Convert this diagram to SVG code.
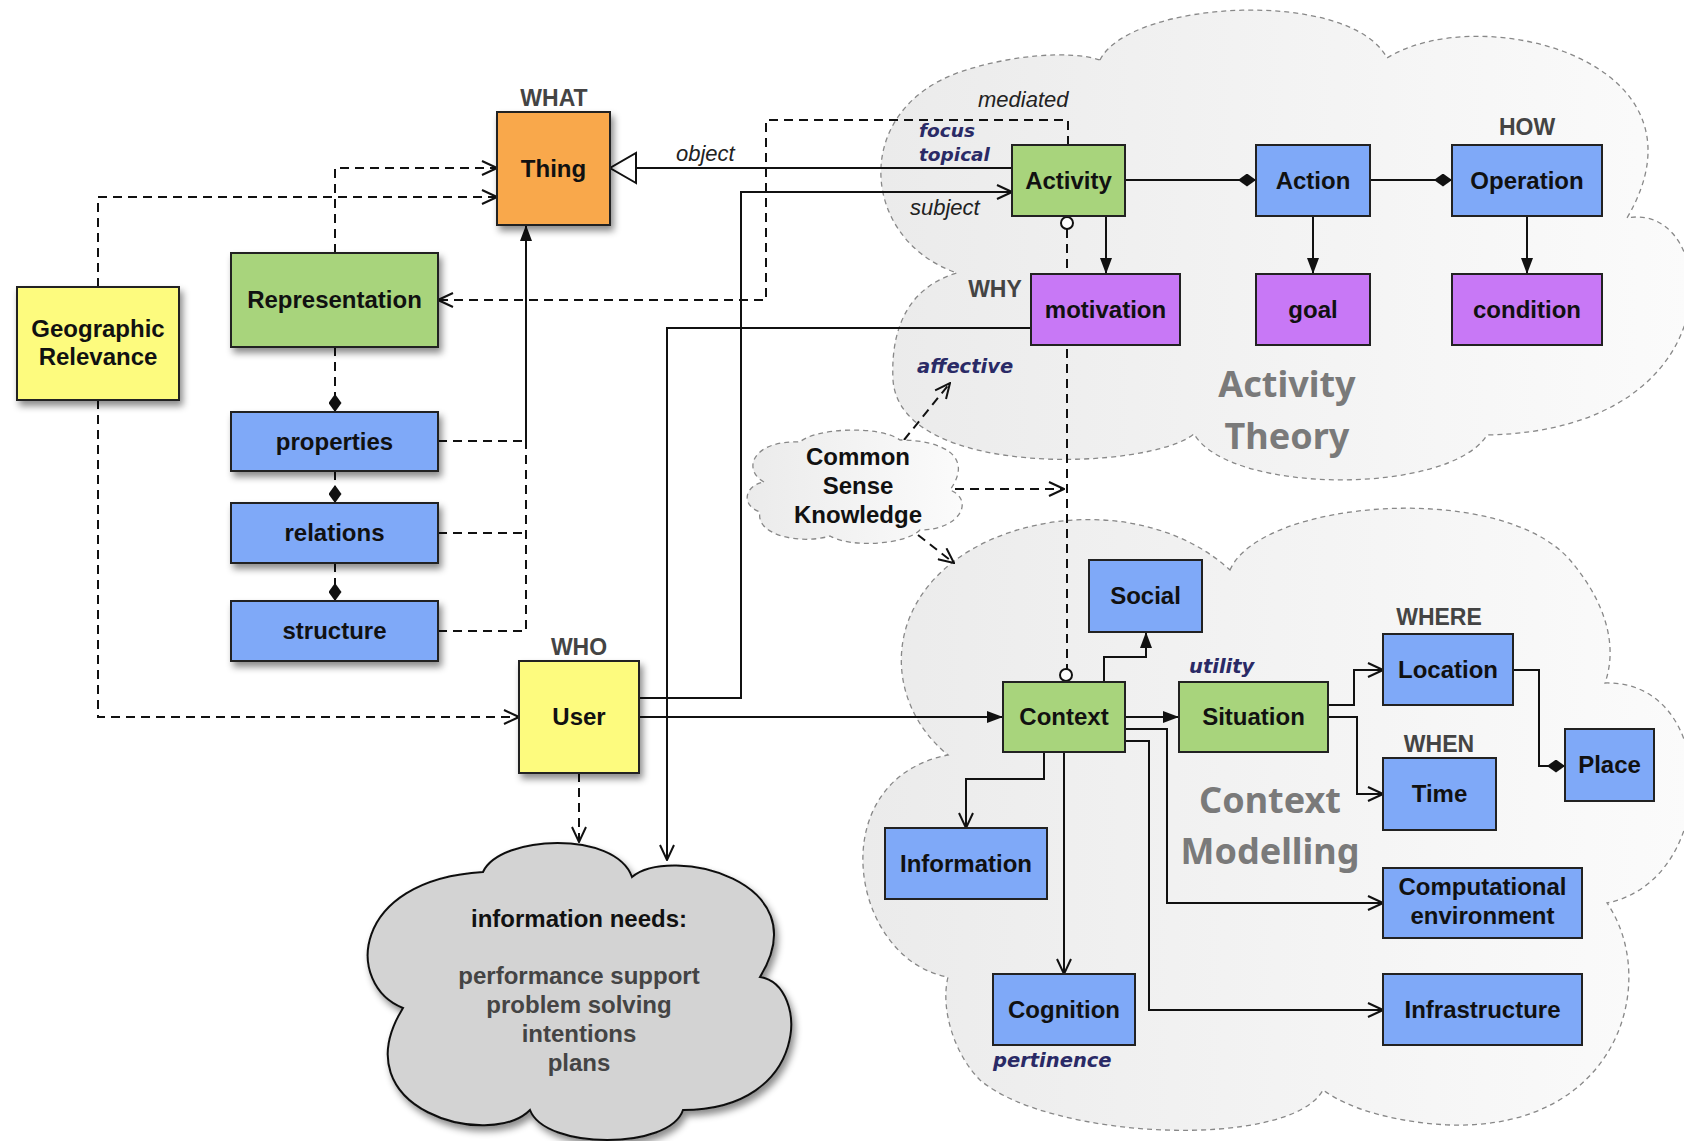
<svg xmlns="http://www.w3.org/2000/svg" width="1684" height="1141" viewBox="0 0 1684 1141">
<style>
text{font-family:"Liberation Sans",Arial,sans-serif}
.lbl{font-size:24px;font-weight:bold;fill:#111;text-anchor:middle}
.hdr{font-size:23px;font-weight:bold;fill:#444;text-anchor:middle}
.it{font-size:22px;font-style:italic;fill:#222}
.nv{font-family:"DejaVu Sans",Verdana,sans-serif;font-size:19.5px;font-weight:bold;font-style:oblique;fill:#2a2a66}
.big{font-family:"Comic Sans MS","Noto Sans",sans-serif;font-size:36px;font-weight:bold;fill:#7a7a7a;text-anchor:middle}
.box{stroke:#222;stroke-width:2}
.or{fill:#F9A84B}.gr{fill:#A8D47C}.bl{fill:#7FA9F8}.pu{fill:#C878F6}.ye{fill:#FDFB7E}
.s{fill:none;stroke:#111;stroke-width:2}
.d{fill:none;stroke:#111;stroke-width:2;stroke-dasharray:9 6}
.cl{fill:url(#cg);stroke:#888;stroke-width:1.3;stroke-dasharray:5 4}
.fa{marker-end:url(#af)}.oa{marker-end:url(#ao)}.dia{marker-end:url(#dm)}
</style>
<defs>
<linearGradient id="cg" x1="0" y1="0" x2="1" y2="0"><stop offset="0" stop-color="#ebebeb"/><stop offset="1" stop-color="#fbfbfb"/></linearGradient>
<filter id="sh" x="-20%" y="-20%" width="150%" height="150%"><feDropShadow dx="3" dy="5" stdDeviation="3.5" flood-color="#000" flood-opacity="0.45"/></filter>
<marker id="af" viewBox="0 0 16 12" refX="16" refY="6" markerWidth="16" markerHeight="12" orient="auto" markerUnits="userSpaceOnUse"><path d="M0,0 L16,6 L0,12 z" fill="#111"/></marker>
<marker id="ao" viewBox="-1 -1 17 16" refX="15" refY="7" markerWidth="17" markerHeight="16" orient="auto" markerUnits="userSpaceOnUse"><path d="M0,0 L15,7 L0,14" fill="none" stroke="#111" stroke-width="2"/></marker>
<marker id="at" viewBox="-2 -2 30 34" refX="26" refY="15" markerWidth="30" markerHeight="34" orient="auto" markerUnits="userSpaceOnUse"><path d="M0,0 L26,15 L0,30 z" fill="#fff" stroke="#111" stroke-width="2"/></marker>
<marker id="dm" viewBox="0 0 18 13" refX="18" refY="6.5" markerWidth="18" markerHeight="13" orient="auto" markerUnits="userSpaceOnUse"><path d="M0,6.5 L9,0 L18,6.5 L9,13 z" fill="#111"/></marker>
</defs>
<rect width="1684" height="1141" fill="#fff"/>

<g id="cloud-activity-theory">
<path class="cl" d="M1100,60 C1130,0 1350,-12 1387,58 C1480,0 1720,60 1627,218 C1720,200 1740,430 1487,435 C1450,495 1230,495 1194,434 C1150,470 900,480 893,380 C890,320 915,285 957,273 C860,240 850,110 960,72 C1010,55 1070,50 1100,60 Z"/>
<text class="big" x="1287" y="397">Activity</text>
<text class="big" x="1287" y="449">Theory</text>
</g>
<g id="cloud-context-modelling">
<path class="cl" d="M1230,570 C1260,500 1500,480 1570,560 C1600,595 1620,640 1605,683 C1720,680 1720,880 1607,903 C1660,980 1620,1130 1450,1125 C1400,1123 1350,1110 1323,1090 C1290,1150 1050,1140 980,1080 C955,1055 940,1010 948,977 C850,960 820,780 948,755 C880,700 880,590 990,540 C1070,505 1170,515 1230,570 Z"/>
<text class="big" x="1270" y="813">Context</text>
<text class="big" x="1270" y="864">Modelling</text>
</g>

<g id="connectors">
<path class="s" d="M1012,168 H610" marker-end="url(#at)"/>
<path class="s oa" d="M639,698 H741 V192 H1012"/>
<path class="s fa" d="M639,717 H1003"/>
<path class="s oa" d="M1031,328 H667 V860"/>
<path class="d oa" d="M1068,145 V120 H766 V300 H438"/>
<path class="d" d="M1067,229 V669"/>
<circle cx="1067" cy="223" r="6" fill="#fff" stroke="#111" stroke-width="2"/>
<circle cx="1066" cy="675" r="6" fill="#fff" stroke="#111" stroke-width="2"/>
<path class="s fa" d="M1106,216 V274"/>
<path class="s dia" d="M1125,180 H1256"/>
<path class="s dia" d="M1370,180 H1452"/>
<path class="s fa" d="M1313,216 V274"/>
<path class="s fa" d="M1527,216 V274"/>
<path class="d oa" d="M335,253 V168 H497"/>
<path class="d oa" d="M98,287 V197 H497"/>
<path class="d oa" d="M98,400 V717 H519"/>
<path class="d dia" d="M335,347 V412"/>
<path class="d dia" d="M335,471 V503"/>
<path class="d dia" d="M335,563 V601"/>
<path class="d" d="M438,441 H526"/>
<path class="d" d="M438,533 H526"/>
<path class="d" d="M438,631 H526 V441"/>
<path class="s fa" d="M526,441 V225"/>
<path class="d oa" d="M904,440 L950,383"/>
<path class="d oa" d="M955,489 H1064"/>
<path class="d oa" d="M918,535 L954,563"/>
<path class="s fa" d="M1104,682 V657 H1146 V632"/>
<path class="s fa" d="M1125,717 H1179"/>
<path class="s oa" d="M1125,729 H1167 V903 H1383"/>
<path class="s oa" d="M1125,741 H1149 V1010 H1383"/>
<path class="s oa" d="M1044,752 V779 H966 V828"/>
<path class="s oa" d="M1064,752 V974"/>
<path class="s oa" d="M1328,705 H1354 V670 H1383"/>
<path class="s oa" d="M1328,717 H1357 V794 H1383"/>
<path class="s dia" d="M1513,670 H1539 V766 H1565"/>
<path class="d oa" d="M579,773 V842"/>
<text class="it" x="676" y="161">object</text>
<text class="it" x="910" y="215">subject</text>
<text class="it" x="978" y="107">mediated</text>
<text class="nv" x="919" y="137" style="font-size:18.5px">focus</text>
<text class="nv" x="919" y="161" style="font-size:18.5px">topical</text>
<text class="nv" x="917" y="373">affective</text>
<text class="nv" x="1189" y="673">utility</text>
<text class="nv" x="993" y="1067">pertinence</text>
</g>

<g id="common-sense-knowledge">
<path class="cl" d="M764,482 C742,470 752,440 800,442 C815,428 880,425 900,440 C940,440 975,455 950,490 C975,500 960,530 920,530 C905,545 850,548 830,536 C800,545 755,535 760,512 C740,505 745,485 764,482 Z"/>
<text class="lbl" x="858" y="465">Common</text>
<text class="lbl" x="858" y="494">Sense</text>
<text class="lbl" x="858" y="523">Knowledge</text>
</g>

<g id="information-needs">
<path d="M403,1008 C345,985 350,880 483,872 C500,835 615,830 632,877 C670,845 820,880 760,977 C810,985 810,1110 683,1110 C670,1150 545,1150 530,1110 C490,1150 340,1110 403,1008 Z" fill="#d3d3d3" stroke="#111" stroke-width="2" filter="url(#sh)"/>
<text class="lbl" x="579" y="927">information needs:</text>
<text class="lbl" x="579" y="984" style="fill:#444">performance support</text>
<text class="lbl" x="579" y="1013" style="fill:#444">problem solving</text>
<text class="lbl" x="579" y="1042" style="fill:#444">intentions</text>
<text class="lbl" x="579" y="1071" style="fill:#444">plans</text>
</g>

<g id="thing"><rect class="box or" x="497" y="112" width="113" height="113" filter="url(#sh)"/><text class="hdr" x="554" y="106">WHAT</text><text class="lbl" x="553.5" y="177">Thing</text></g>
<g id="representation"><rect class="box gr" x="231" y="253" width="207" height="94" filter="url(#sh)"/><text class="lbl" x="334.5" y="308">Representation</text></g>
<g id="geographic-relevance"><rect class="box ye" x="17" y="287" width="162" height="113" filter="url(#sh)"/><text class="lbl" x="98" y="337">Geographic</text><text class="lbl" x="98" y="365">Relevance</text></g>
<g id="properties"><rect class="box bl" x="231" y="412" width="207" height="59" filter="url(#sh)"/><text class="lbl" x="334.5" y="450">properties</text></g>
<g id="relations"><rect class="box bl" x="231" y="503" width="207" height="60" filter="url(#sh)"/><text class="lbl" x="334.5" y="541">relations</text></g>
<g id="structure"><rect class="box bl" x="231" y="601" width="207" height="60" filter="url(#sh)"/><text class="lbl" x="334.5" y="639">structure</text></g>
<g id="user"><rect class="box ye" x="519" y="661" width="120" height="112" filter="url(#sh)"/><text class="hdr" x="579" y="655">WHO</text><text class="lbl" x="579" y="725">User</text></g>

<g id="activity"><rect class="box gr" x="1012" y="145" width="113" height="71"/><text class="lbl" x="1068.5" y="189">Activity</text></g>
<g id="action"><rect class="box bl" x="1256" y="145" width="114" height="71"/><text class="lbl" x="1313" y="189">Action</text></g>
<g id="operation"><rect class="box bl" x="1452" y="145" width="150" height="71"/><text class="hdr" x="1527" y="135">HOW</text><text class="lbl" x="1527" y="189">Operation</text></g>
<g id="motivation"><rect class="box pu" x="1031" y="274" width="149" height="71"/><text class="hdr" x="995" y="297">WHY</text><text class="lbl" x="1105.5" y="318">motivation</text></g>
<g id="goal"><rect class="box pu" x="1256" y="274" width="114" height="71"/><text class="lbl" x="1313" y="318">goal</text></g>
<g id="condition"><rect class="box pu" x="1452" y="274" width="150" height="71"/><text class="lbl" x="1527" y="318">condition</text></g>

<g id="context"><rect class="box gr" x="1003" y="682" width="122" height="70"/><text class="lbl" x="1064" y="725">Context</text></g>
<g id="situation"><rect class="box gr" x="1179" y="682" width="149" height="70"/><text class="lbl" x="1253.5" y="725">Situation</text></g>
<g id="social"><rect class="box bl" x="1089" y="560" width="113" height="72"/><text class="lbl" x="1145.5" y="604">Social</text></g>
<g id="location"><rect class="box bl" x="1383" y="634" width="130" height="71"/><text class="hdr" x="1439" y="625">WHERE</text><text class="lbl" x="1448" y="678">Location</text></g>
<g id="time"><rect class="box bl" x="1383" y="758" width="113" height="72"/><text class="hdr" x="1439" y="752">WHEN</text><text class="lbl" x="1439.5" y="802">Time</text></g>
<g id="place"><rect class="box bl" x="1565" y="729" width="89" height="72"/><text class="lbl" x="1609.5" y="773">Place</text></g>
<g id="information"><rect class="box bl" x="885" y="828" width="162" height="71"/><text class="lbl" x="966" y="872">Information</text></g>
<g id="cognition"><rect class="box bl" x="993" y="974" width="142" height="71"/><text class="lbl" x="1064" y="1018">Cognition</text></g>
<g id="computational-environment"><rect class="box bl" x="1383" y="868" width="199" height="70"/><text class="lbl" x="1482.5" y="895">Computational</text><text class="lbl" x="1482.5" y="924">environment</text></g>
<g id="infrastructure"><rect class="box bl" x="1383" y="974" width="199" height="71"/><text class="lbl" x="1482.5" y="1018">Infrastructure</text></g>
</svg>
